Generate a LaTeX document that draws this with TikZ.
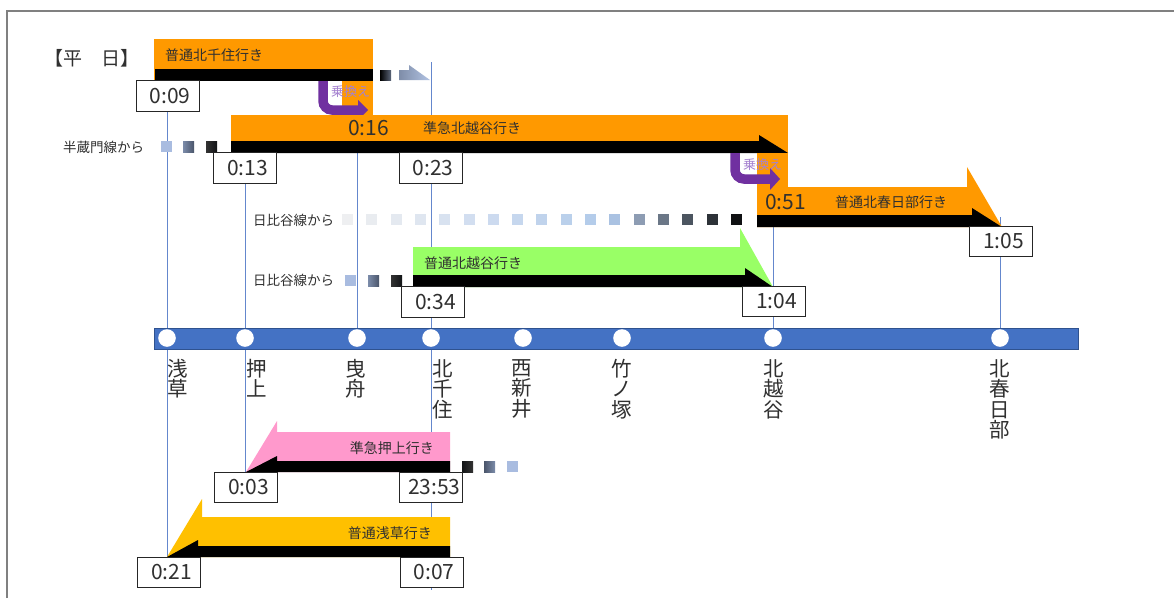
\documentclass[tikz,border=0pt]{standalone}
\usepackage{fontspec}
\setmainfont{Noto Sans CJK JP}
\definecolor{torange}{RGB}{255,153,0}
\definecolor{tgreen}{RGB}{153,255,102}
\definecolor{tpink}{RGB}{255,153,204}
\definecolor{tyellow}{RGB}{255,192,0}
\definecolor{tpurple}{RGB}{112,48,160}
\definecolor{tblue}{RGB}{68,114,196}
\definecolor{tblueedge}{RGB}{47,82,143}
\definecolor{vlinec}{RGB}{100,135,205}
\definecolor{xferc}{RGB}{165,130,208}
\definecolor{dotlight}{HTML}{A9BCE0}
\definecolor{dotmid}{HTML}{5D6B85}
\definecolor{dotdark}{HTML}{121416}
\definecolor{txt}{HTML}{303030}
\begin{document}
\begin{tikzpicture}[x=1pt,y=-1pt,
  tbox/.style={draw=black!85, fill=white, line width=0.9, minimum width=63, minimum height=30.5, inner sep=0, font=\fontsize{21}{21}\selectfont, text=txt},
  stn/.style={circle, fill=white, minimum size=18, inner sep=0},
  slabel/.style={anchor=north, inner sep=0, align=center, font=\fontsize{20.5}{20.5}\selectfont, text=txt},
  tlabel/.style={inner sep=0, font=\fontsize{14}{14}\selectfont, text=txt},
  big/.style={inner sep=0, font=\fontsize{21}{21}\selectfont, text=txt},
  vl/.style={draw=vlinec, line width=0.9},
  xfer/.style={draw=tpurple, line width=9.5, rounded corners=9},
  xlabel/.style={inner sep=0, font=\fontsize{13}{13}\selectfont, text=xferc}
]
\useasboundingbox (0,0) rectangle (1174,598);
\fill[white] (0,0) rectangle (1174,598);
% frame
\draw[black!50, line width=1.5] (7,598) -- (7,11) -- (1174,11);

% heading
\node[inner sep=0, font=\fontsize{19}{19}\selectfont, text=txt] (heading) at (92,58) {【平　日】};

% stations
\node[stn] (s-asakusa) at (167,338) {};
\node[stn] (s-oshiage) at (245,338) {};
\node[stn] (s-hikifune) at (357,338) {};
\node[stn] (s-kitasenju) at (431,338) {};
\node[stn] (s-nishiarai) at (523,338) {};
\node[stn] (s-takenotsuka) at (622,338) {};
\node[stn] (s-kitakoshigaya) at (773,338) {};
\node[stn] (s-kasukabe) at (1000,338) {};

% time box centres
\path (167.5,96) coordinate (c009) (245,168) coordinate (c013) (430.5,168) coordinate (c023)
      (433,302) coordinate (c034) (774,301.5) coordinate (c104) (1001,241.5) coordinate (c105)
      (246,487.5) coordinate (c003) (431,487.5) coordinate (c2353) (169,572.5) coordinate (c021)
      (431.5,572.5) coordinate (c007);
\coordinate (kt-top) at (431,62);
\coordinate (kt-bot) at (431,590);
\coordinate (hk-top) at (357,153);
\coordinate (kg-top) at (773,187);
\coordinate (kb-top) at (1000,217);

% vertical guide lines
\draw[vl] (167,111) coordinate (as-top) -- (167,557) coordinate (as-bot);
\draw[vl] (245,183) coordinate (os-top) -- (245,472) coordinate (os-bot);
\draw[vl] (kt-top) -- (kt-bot);
\draw[vl] (hk-top) -- (s-hikifune);
\draw[vl] (kg-top) -- (s-kitakoshigaya);
\draw[vl] (kb-top) -- (s-kasukabe);

% station bar
\fill[tblue, draw=tblueedge, line width=0.8] (154,328) rectangle (1078,349);
\foreach \n in {s-asakusa,s-oshiage,s-hikifune,s-kitasenju,s-nishiarai,s-takenotsuka,s-kitakoshigaya,s-kasukabe}
  \fill[white] (\n) circle (8.8);

% station names
\node[slabel] (l-asakusa) at (178,359) {浅\\草};
\node[slabel] (l-oshiage) at (257,359) {押\\上};
\node[slabel] (l-hikifune) at (356,359) {曳\\舟};
\node[slabel] (l-kitasenju) at (443,359) {北\\千\\住};
\node[slabel] (l-nishiarai) at (522,359) {西\\新\\井};
\node[slabel] (l-takenotsuka) at (622,359) {竹\\ノ\\塚};
\node[slabel] (l-kitakoshigaya) at (774,359) {北\\越\\谷};
\node[slabel] (l-kasukabe) at (1000,359) {北\\春\\日\\部};

% ---- train 1: 普通北千住行き
\fill[torange] (154,39) rectangle (373,81);
\fill[torange] (342,81) rectangle (373,115);
\fill[black] (155,69) rectangle (373,81);
\shade[left color=black, right color=black!45!dotlight] (380,70) rectangle (391,80);
\shade[left color=dotlight!75!black, right color=dotlight!90!white] (399,70) -- (409,70) -- (409,65) -- (430,80) -- (399,80) -- cycle;
\node[tlabel, anchor=west] (t1) at (165,55) {普通北千住行き};
\draw[xfer] (323,81) |- (359,110);
\fill[tpurple] (358,100) -- (368,110) -- (358,120) -- cycle;
\node[xlabel, anchor=west] (x1) at (331,92) {乗換え};

% ---- train 2: 準急北越谷行き
\fill[torange] (231,115) rectangle (788,153);
\fill[black] (231,141) -- (759,141) -- (759,135) -- (788,153) -- (231,153) -- cycle;
\node[tlabel, anchor=west] (t2) at (423,128) {準急北越谷行き};
\node[big, anchor=west] (t016) at (348,128) {0:16};
\fill[dotlight] (161,141) rectangle (172,152);
\shade[left color=dotmid!60!dotlight, right color=dotmid!80!black] (183,141) rectangle (194,152);
\shade[left color=black!80, right color=dotdark] (206,141) rectangle (217,152);
\node[inner sep=0, font=\fontsize{13.5}{13.5}\selectfont, text=txt, anchor=west] (hz) at (63,147) {半蔵門線から};

% ---- transfer 2 + train 3: 普通北春日部行き
\fill[torange] (757,153) rectangle (788,187);
\fill[torange] (757,187) -- (967,187) -- (967,167) -- (1002,227) -- (757,227) -- cycle;
\fill[black] (757,215) -- (972,215) -- (972,208) -- (1002,227) -- (757,227) -- cycle;
\draw[xfer] (735,153) |- (771,179);
\fill[tpurple] (770,168) -- (780,179) -- (770,190) -- cycle;
\node[xlabel, anchor=west] (x2) at (743,165) {乗換え};
\node[big, anchor=west] (t051) at (765,202) {0:51};
\node[tlabel, anchor=west] (t3) at (835,202) {普通北春日部行き};

% 日比谷線 row 1
\node[inner sep=0, font=\fontsize{13.5}{13.5}\selectfont, text=txt, anchor=west] (hb1) at (253,220) {日比谷線から};
\foreach \i/\c in {0/EEEFF1,1/E9ECF0,2/E4E9F0,3/DFE6F0,4/D8E2F0,5/D2DEF0,6/CCDAEF,7/C6D7EE,8/C0D3EC,9/BAD0EB,10/B4CCEA,11/AAC2E2,12/8D9CB3,13/6B7787,14/4C5560,15/2D3238,16/101113}{
  \definecolor{dc}{HTML}{\c}
  \fill[dc] (342+24.3*\i,214) rectangle ++(11,11);
}

% ---- train 4: 普通北越谷行き
\fill[tgreen] (413,247) -- (740,247) -- (740,228) -- (773,287) -- (413,287) -- cycle;
\fill[black] (413,275) -- (745,275) -- (745,268) -- (773,287) -- (413,287) -- cycle;
\node[tlabel, anchor=west] (t4) at (424,263) {普通北越谷行き};
\node[inner sep=0, font=\fontsize{13.5}{13.5}\selectfont, text=txt, anchor=west] (hb2) at (253,280) {日比谷線から};
\fill[dotlight] (345,275) rectangle (356,286);
\shade[left color=dotmid!60!dotlight, right color=dotmid!80!black] (368,275) rectangle (379,286);
\shade[left color=black!80, right color=dotdark] (391,275) rectangle (402,286);

% ---- train 5: 準急押上行き
\fill[tpink] (450,432) -- (277,432) -- (277,421) -- (246,472) -- (450,472) -- cycle;
\fill[black] (450,461) -- (277,461) -- (277,456) -- (246,472) -- (450,472) -- cycle;
\node[tlabel, anchor=east] (t5) at (434,448) {準急押上行き};
\shade[left color=dotdark, right color=black!80] (462,461) rectangle (473,472);
\shade[left color=dotmid!80!black, right color=dotmid!60!dotlight] (484,461) rectangle (495,472);
\fill[dotlight] (507,461) rectangle (518,472);

% ---- train 6: 普通浅草行き
\fill[tyellow] (450,517) -- (202,517) -- (202,499) -- (167,557) -- (450,557) -- cycle;
\fill[black] (450,546) -- (198,546) -- (198,540) -- (167,557) -- (450,557) -- cycle;
\node[tlabel, anchor=east] (t6) at (432,533) {普通浅草行き};

% time boxes
\node[tbox] (b009) at (c009) {\hbox to 46pt{\hfill 0:09}};
\node[tbox] (b013) at (c013) {\hbox to 46pt{\hfill 0:13}};
\node[tbox] (b023) at (c023) {\hbox to 46pt{\hfill 0:23}};
\node[tbox] (b034) at (c034) {\hbox to 46pt{\hfill 0:34}};
\node[tbox] (b104) at (c104) {\hbox to 46pt{\hfill 1:04}};
\node[tbox] (b105) at (c105) {\hbox to 46pt{\hfill 1:05}};
\node[tbox] (b003) at (c003) {\hbox to 46pt{\hfill 0:03}};
\node[tbox] (b2353) at (c2353) {\hbox to 46pt{\hfill 23:53}};
\node[tbox] (b021) at (c021) {\hbox to 46pt{\hfill 0:21}};
\node[tbox] (b007) at (c007) {\hbox to 46pt{\hfill 0:07}};
\end{tikzpicture}
\end{document}
